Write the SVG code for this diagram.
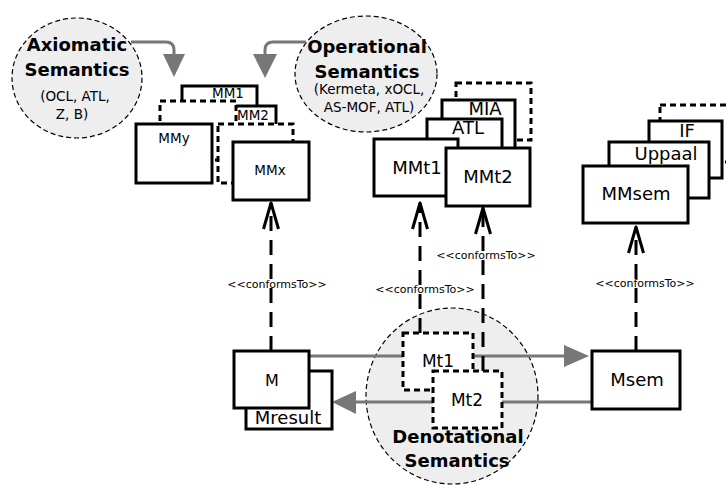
<svg xmlns="http://www.w3.org/2000/svg" width="726" height="485" viewBox="0 0 726 485">
<style>
text { font-family: "DejaVu Sans", "Liberation Sans", sans-serif; text-anchor: middle; fill: #000; }
.box { fill: #fff; stroke: #000; stroke-width: 3; }
.dbox { fill: #fff; stroke: #000; stroke-width: 3; stroke-dasharray: 6 4; }
.bubble { fill: #eeeeee; stroke: #000; stroke-width: 1.2; stroke-dasharray: 5 3; }
.conf { fill: none; stroke: #000; stroke-width: 3; stroke-dasharray: 15 9; marker-end: url(#open); }
.flow { fill: none; stroke: #777; stroke-width: 3; }
.head { fill: #777; stroke: none; }
.big { font-weight: bold; font-size: 18px; }
.sub { font-size: 13.5px; }
.lbl { font-size: 13.5px; }
.lbl18 { font-size: 18px; }
.conft { font-size: 11px; }
</style>
<defs>
<marker id="open" viewBox="-30 -10 32 20" refX="0" refY="0" markerWidth="32" markerHeight="20" markerUnits="userSpaceOnUse" orient="auto">
<path d="M-26,-7.5 L0,0 L-26,7.5" fill="none" stroke="#000" stroke-width="3" stroke-linejoin="round"/>
</marker>
</defs>

<g id="axiomatic">
<ellipse class="bubble" cx="77" cy="78" rx="65" ry="60"/>
<text class="big" x="77" y="51">Axiomatic</text>
<text class="big" x="77" y="76">Semantics</text>
<text class="sub" x="75" y="101">(OCL, ATL,</text>
<text class="sub" x="72" y="119">Z, B)</text>
</g>

<g id="operational">
<ellipse class="bubble" cx="366" cy="74" rx="71" ry="58"/>
<text class="big" x="367" y="53">Operational</text>
<text class="big" x="367" y="78">Semantics</text>
<text class="sub" x="369" y="94">(Kermeta, xOCL,</text>
<text class="sub" x="369" y="112">AS-MOF, ATL)</text>
</g>

<g id="denotational">
<ellipse class="bubble" cx="452" cy="396" rx="86" ry="88"/>
<text class="big" x="458" y="443">Denotational</text>
<text class="big" x="457" y="467">Semantics</text>
</g>

<g id="connectors">
<path class="flow" d="M131,42 H166 Q174,42 174,50 V56"/>
<polygon class="head" points="163,54 185,54 174,77"/>
<path class="flow" d="M306,42 H273 Q265,42 265,50 V56"/>
<polygon class="head" points="253,54 277,54 265,78"/>
<path class="flow" d="M309,356 H566"/>
<polygon class="head" points="564,345 564,367 589,356"/>
<path class="flow" d="M592,402 H354"/>
<polygon class="head" points="356,391 356,414 332,402"/>
<path class="conf" d="M271,351 V203"/>
<path class="conf" d="M420,333 V203"/>
<path class="conf" d="M483,371 V208"/>
<path class="conf" d="M636,351 V227"/>
<text class="conft" x="277" y="288">&lt;&lt;conformsTo&gt;&gt;</text>
<text class="conft" x="425" y="293">&lt;&lt;conformsTo&gt;&gt;</text>
<text class="conft" x="486" y="259">&lt;&lt;conformsTo&gt;&gt;</text>
<text class="conft" x="645" y="287">&lt;&lt;conformsTo&gt;&gt;</text>
</g>

<g id="MM1">
<rect class="box" x="182" y="86" width="75" height="55"/>
<text class="lbl" x="228" y="98">MM1</text>
</g>
<g id="MM2">
<rect class="box" x="234" y="106" width="42" height="40"/>
<text class="lbl" x="253" y="120">MM2</text>
</g>
<g id="MMy-back">
<rect class="dbox" x="160" y="101" width="76" height="59"/>
</g>
<g id="MMx-back">
<rect class="dbox" x="218" y="124" width="75" height="59"/>
</g>
<g id="MMy">
<rect class="box" x="136" y="124" width="76" height="59"/>
<text class="lbl" x="174" y="143">MMy</text>
</g>
<g id="MMx">
<rect class="box" x="233" y="142" width="76" height="58"/>
<text class="lbl" x="270" y="175">MMx</text>
</g>

<g id="MMt-back">
<rect class="dbox" x="456" y="83" width="75" height="57"/>
</g>
<g id="MIA">
<rect class="box" x="442" y="100" width="73" height="60"/>
<text class="lbl18" x="485" y="115">MIA</text>
</g>
<g id="ATL">
<rect class="box" x="427" y="119" width="75" height="40"/>
<text class="lbl18" x="468" y="134">ATL</text>
</g>
<g id="MMt1">
<rect class="box" x="374" y="139" width="84" height="57"/>
<text class="lbl18" x="417" y="174">MMt1</text>
</g>
<g id="MMt2">
<rect class="box" x="446" y="148" width="84" height="58"/>
<text class="lbl18" x="488" y="183">MMt2</text>
</g>

<g id="MMsem-back">
<rect class="dbox" x="660" y="105" width="72" height="57"/>
</g>
<g id="IF">
<rect class="box" x="649" y="121" width="73" height="57"/>
<text class="lbl18" x="687" y="137">IF</text>
</g>
<g id="Uppaal">
<rect class="box" x="609" y="142" width="100" height="56"/>
<text class="lbl18" x="666" y="160">Uppaal</text>
</g>
<g id="MMsem">
<rect class="box" x="583" y="166" width="105" height="57"/>
<text class="lbl18" x="636" y="200">MMsem</text>
</g>

<g id="Mresult">
<rect class="box" x="246" y="371" width="86" height="58"/>
<text class="lbl18" x="288" y="424">Mresult</text>
</g>
<g id="M">
<rect class="box" x="234" y="351" width="75" height="57"/>
<text style="font-size:16px" x="272" y="386">M</text>
</g>
<g id="Mt1">
<rect class="dbox" x="403" y="333" width="70" height="57"/>
<text style="font-size:17px" x="438" y="367">Mt1</text>
</g>
<g id="Mt2">
<rect class="dbox" x="433" y="371" width="69" height="57"/>
<text style="font-size:17px" x="467" y="406">Mt2</text>
</g>
<g id="Msem">
<rect class="box" x="592" y="351" width="88" height="58"/>
<text class="lbl18" x="637" y="386">Msem</text>
</g>
</svg>
